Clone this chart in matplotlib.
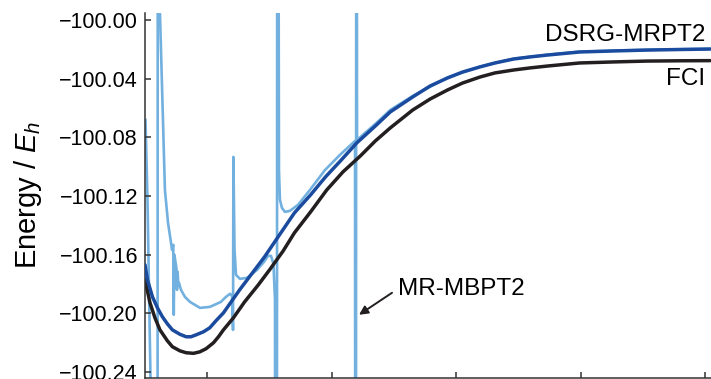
import numpy as np
import matplotlib.pyplot as plt
from matplotlib.ticker import FuncFormatter

plt.rcParams['font.family'] = ['Liberation Sans', 'DejaVu Sans']
plt.rcParams['mathtext.fontset'] = 'custom'
plt.rcParams['mathtext.rm'] = 'Liberation Sans'
plt.rcParams['mathtext.it'] = 'Liberation Sans:italic'

# bond length (arbitrary units, no tick labels shown)
x_fci = [0.50, 0.54, 0.58, 0.62, 0.68, 0.72, 0.78, 0.83, 0.89, 0.94, 0.99, 1.05,
         1.09, 1.13, 1.21, 1.30, 1.41, 1.50, 1.61, 1.70, 1.83, 1.96, 2.09, 2.23,
         2.35, 2.47, 2.65, 2.79, 2.93, 3.05, 3.19, 3.31, 3.46, 3.59, 3.73, 3.99,
         4.26, 4.53, 4.80, 5.04]
e_fci = [-100.1773, -100.1929, -100.2032, -100.2114, -100.2189, -100.2229, -100.2257,
         -100.2270, -100.2274, -100.2264, -100.2243, -100.2202, -100.2161, -100.2114,
         -100.2032, -100.1923, -100.1807, -100.1705, -100.1575, -100.1452, -100.1309,
         -100.1159, -100.1036, -100.0927, -100.0825, -100.0736, -100.0614, -100.0539,
         -100.0477, -100.0430, -100.0389, -100.0361, -100.0341, -100.0327, -100.0314,
         -100.0293, -100.0286, -100.0280, -100.0278, -100.0277]

x_dsrg = [0.50, 0.52, 0.56, 0.60, 0.64, 0.68, 0.72, 0.78, 0.83, 0.87, 0.91, 0.97,
          1.02, 1.07, 1.13, 1.26, 1.46, 1.70, 1.83, 1.95, 2.07, 2.20, 2.35, 2.47,
          2.65, 2.79, 2.93, 3.05, 3.19, 3.31, 3.46, 3.59, 3.73, 3.99, 4.26, 4.53,
          4.80, 5.04]
e_dsrg = [-100.1670, -100.1773, -100.1889, -100.1964, -100.2025, -100.2073, -100.2114,
          -100.2144, -100.2161, -100.2161, -100.2148, -100.2127, -100.2100, -100.2052,
          -100.1998, -100.1841, -100.1616, -100.1316, -100.1193, -100.1070, -100.0961,
          -100.0839, -100.0723, -100.0627, -100.0525, -100.0450, -100.0395, -100.0355,
          -100.0320, -100.0293, -100.0266, -100.0252, -100.0239, -100.0218, -100.0211,
          -100.0205, -100.0201, -100.0198]

# MR-MBPT2 with intruder-state poles
x_mbpt = [0.504, 0.520, 0.544, 0.548, 0.572, 0.596, 0.604, 0.620, 0.660, 0.685,
          0.709, 0.717, 0.727, 0.731, 0.736, 0.752, 0.757, 0.762, 0.766, 0.773,
          0.789, 0.821, 0.861, 0.942, 1.022, 1.110, 1.150, 1.183, 1.199, 1.207,
          1.210, 1.219, 1.231, 1.263, 1.319, 1.400, 1.456, 1.488, 1.512, 1.532,
          1.544, 1.556, 1.564, 1.576, 1.584, 1.600, 1.624, 1.664, 1.729, 1.825,
          1.946, 2.066, 2.187, 2.192, 2.198, 2.203, 2.350, 2.470, 2.650, 2.930,
          3.190, 3.460, 3.730, 3.990, 4.530, 5.040]
e_mbpt = [-100.0682, -100.1227, -100.2434, -100.2590, -101.0000, -101.6000, -99.5000,
          -99.9945, -100.1159, -100.1384, -100.1520, -100.1568, -100.1534, -100.2011,
          -100.1602, -100.1691, -100.1841, -100.1718, -100.1786, -100.1793, -100.1841,
          -100.1889, -100.1923, -100.1964, -100.1957, -100.1923, -100.1889, -100.1868,
          -100.1882, -100.2114, -100.0934, -100.1568, -100.1739, -100.1766, -100.1759,
          -100.1705, -100.1650, -100.1609, -100.1609, -100.1664, -100.1909, -101.0000,
          -99.5000, -100.1023, -100.1227, -100.1282, -100.1309, -100.1302, -100.1261,
          -100.1159, -100.1023, -100.0920, -100.0825, -101.0000, -99.5000, -100.0818,
          -100.0709, -100.0614, -100.0518, -100.0392, -100.0318, -100.0264, -100.0237,
          -100.0216, -100.0203, -100.0196]

yticks = [-100.24, -100.20, -100.16, -100.12, -100.08, -100.04, -100.00]
xticks = [1, 2, 3, 4, 5]

fig = plt.figure(figsize=(7.11, 3.79), dpi=100)
ax = fig.add_axes([145/711, 1.5/379, 566/711, 364.5/379])

ax.plot(x_mbpt, e_mbpt, color='#72b1df', lw=1.9, zorder=1)
ax.plot(x_fci, e_fci, color='#231f20', lw=2.5, zorder=2, solid_capstyle='round')
ax.plot(x_dsrg, e_dsrg, color='#1b4b9e', lw=2.5, zorder=3, solid_capstyle='round')

ax.set_xlim(0.5, 5.046)
ax.set_ylim(-100.2439, -99.9952)
ax.set_xticks(xticks)
ax.set_xticklabels([])
ax.set_yticks(yticks)
ax.yaxis.set_major_formatter(FuncFormatter(lambda v, p: f'{v:.2f}'.replace('-', '\u2212')))
ax.tick_params(direction='in', length=4, width=1.1, color='#333333', labelsize=15.5, pad=5)

for s in ['top', 'right']:
    ax.spines[s].set_visible(False)
for s in ['left', 'bottom']:
    ax.spines[s].set_color('#333333')
    ax.spines[s].set_linewidth(1.1)

ax.set_ylabel('Energy / $\\mathit{E}_h$', fontsize=21, labelpad=11)

ax.text(5.0, -100.0105, 'DSRG-MRPT2', fontsize=17.5, ha='right', va='center')
ax.text(5.0, -100.0400, 'FCI', fontsize=17.5, ha='right', va='center')
ax.text(2.532, -100.1834, 'MR-MBPT2', fontsize=17.5, ha='left', va='center')
ax.annotate('', xy=(2.219, -100.2011), xytext=(2.484, -100.1861),
            arrowprops=dict(arrowstyle='-|>', color='#231f20', lw=1.4,
                            mutation_scale=13, shrinkA=0, shrinkB=0))

fig.savefig('out.png', dpi=100)
